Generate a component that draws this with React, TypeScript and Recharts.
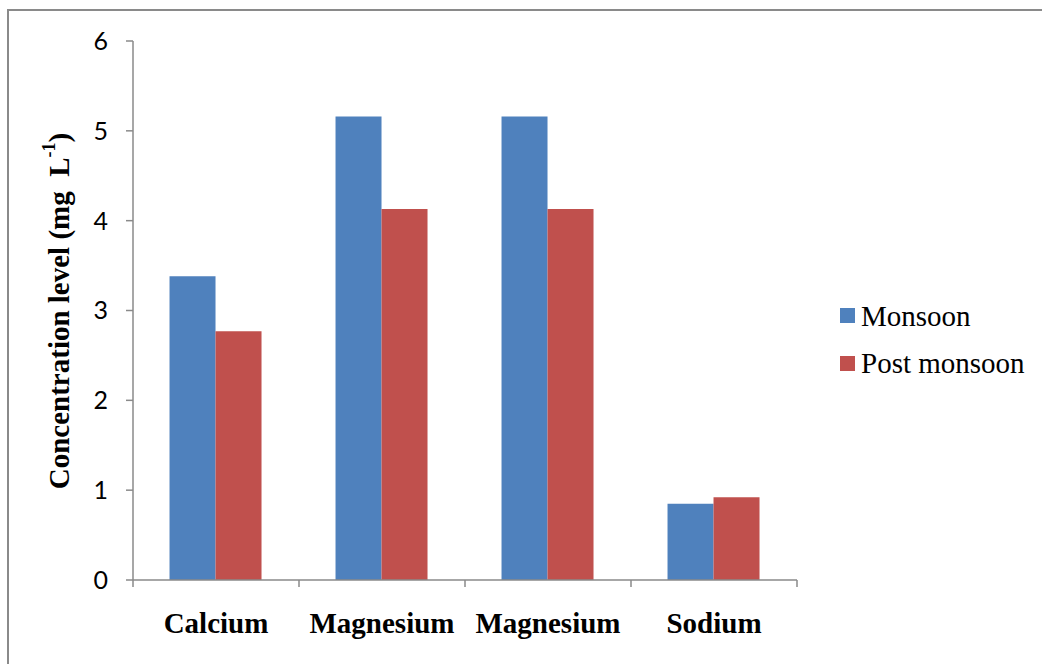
import React from "react";
import { BarChart, Bar, XAxis, YAxis } from "recharts";

const categories = ["Calcium", "Magnesium", "Magnesium", "Sodium"];
const monsoon = [3.38, 5.16, 5.16, 0.85];
const postMonsoon = [2.77, 4.13, 4.13, 0.92];
const yTicks = [0, 1, 2, 3, 4, 5, 6];
const seriesNames = ["Monsoon", "Post monsoon"];

const data = categories.map((c, i) => ({
  name: c,
  monsoon: monsoon[i],
  post: postMonsoon[i],
}));

const BLUE = "#4F81BD";
const RED = "#C0504D";
const AXIS = "#8a8a8a";
const SERIF = "'Liberation Serif', 'Times New Roman', serif";

const YLabel = (props: any) => {
  const vb = props.viewBox || { x: 0, y: 41, width: 133, height: 539 };
  const cx = vb.x + 59;
  const cy = 311;
  return (
    <text
      x={cx}
      y={cy}
      transform={`rotate(-90, ${cx}, ${cy})`}
      textAnchor="middle"
      dominantBaseline="central"
      fontFamily={SERIF}
      fontWeight="bold"
      fontSize={29}
      fill="#000"
    >
      Concentration level (mg{"\u00a0\u00a0"}L
      <tspan dy={-10} fontSize={18}>-1</tspan>
      <tspan dy={10}>)</tspan>
    </text>
  );
};

// Category tick: label centred, Excel-style tick marks at the band boundaries
const CatTick = (props: any) => {
  const { x, y, payload, index, visibleTicksCount } = props;
  const half = payload && payload.offset ? payload.offset : 0;
  const axisY = 580;
  const isLast = index === (visibleTicksCount ?? 4) - 1;
  return (
    <g>
      <line x1={x - half} x2={x - half} y1={axisY} y2={axisY + 7} stroke={AXIS} strokeWidth={1.5} />
      {isLast && (
        <line x1={x + half} x2={x + half} y1={axisY} y2={axisY + 7} stroke={AXIS} strokeWidth={1.5} />
      )}
      <text
        x={x}
        y={y}
        dy="0.71em"
        textAnchor="middle"
        fontFamily={SERIF}
        fontWeight="bold"
        fontSize={29}
        fill="#000"
      >
        {payload.value}
      </text>
    </g>
  );
};

export default function App() {
  const colors = [BLUE, RED];
  return (
    <div
      style={{
        position: "absolute",
        left: 0,
        top: 0,
        width: 1042,
        height: 664,
        overflow: "hidden",
        background: "#fff",
      }}
    >
      <div
        style={{
          position: "absolute",
          left: 7,
          top: 9,
          width: 1200,
          height: 800,
          borderLeft: `2px solid ${AXIS}`,
          borderTop: `2px solid ${AXIS}`,
        }}
      />
      <div style={{ position: "absolute", left: 0, top: 0 }}>
        <BarChart
          width={1042}
          height={664}
          data={data}
          margin={{ top: 41, right: 245, bottom: 0, left: 0 }}
          barCategoryGap="22%"
          barGap={0}
        >
          <XAxis
            dataKey="name"
            height={84}
            axisLine={{ stroke: AXIS, strokeWidth: 1.5 }}
            tickLine={false}
            tickSize={0}
            tickMargin={32}
            interval={0}
            tick={<CatTick />}
          />
          <YAxis
            width={133}
            domain={[0, 6]}
            ticks={yTicks}
            interval={0}
            tickSize={7}
            tickMargin={18}
            axisLine={{ stroke: AXIS, strokeWidth: 1.5 }}
            tickLine={{ stroke: AXIS, strokeWidth: 1.5 }}
            tick={{ fontFamily: "Lato, 'Open Sans', sans-serif", fontSize: 25, fill: "#000" }}
            label={<YLabel />}
          />
          <Bar dataKey="monsoon" name={seriesNames[0]} fill={BLUE} isAnimationActive={false} />
          <Bar dataKey="post" name={seriesNames[1]} fill={RED} isAnimationActive={false} />
        </BarChart>
      </div>
      {seriesNames.map((n, i) => (
        <React.Fragment key={n}>
          <div
            style={{
              position: "absolute",
              left: 840,
              top: 308 + i * 48,
              width: 15,
              height: 15,
              background: colors[i],
            }}
          />
          <div
            style={{
              position: "absolute",
              left: 861,
              top: 302 + i * 47,
              fontFamily: SERIF,
              fontSize: 29,
              lineHeight: "29px",
              color: "#000",
              whiteSpace: "nowrap",
            }}
          >
            {n}
          </div>
        </React.Fragment>
      ))}
    </div>
  );
}
